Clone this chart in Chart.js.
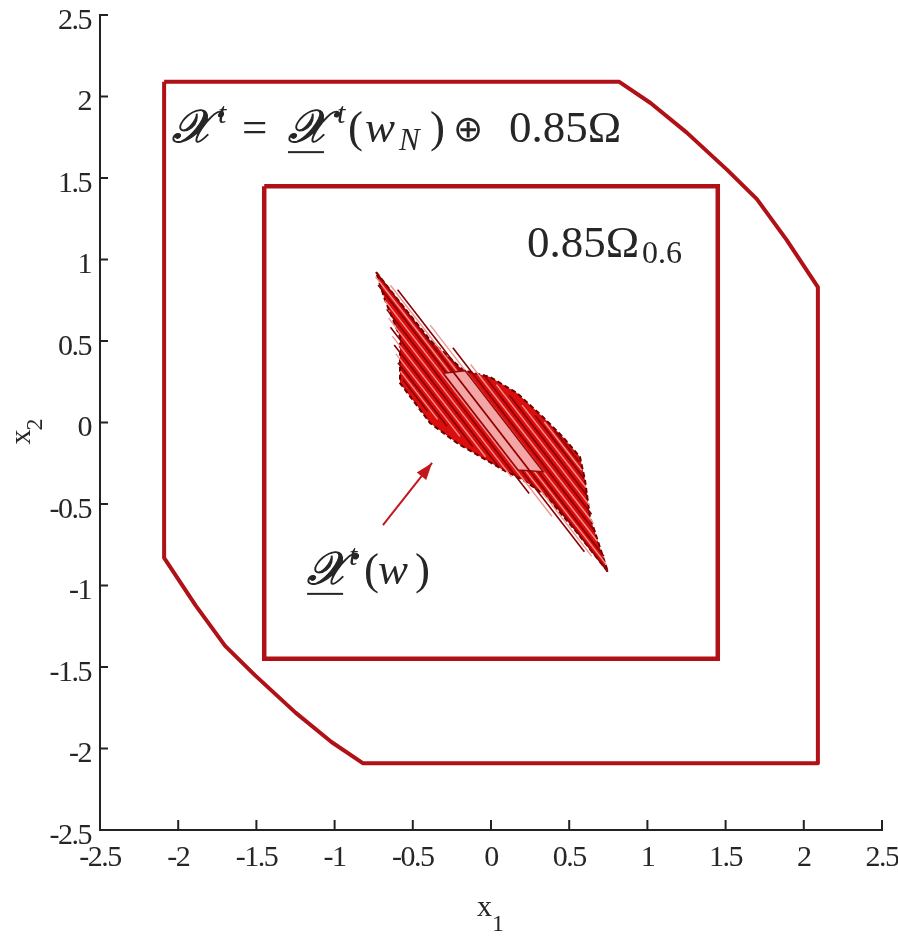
<!DOCTYPE html>
<html>
<head>
<meta charset="utf-8">
<title>Invariant sets</title>
<script src="https://cdn.jsdelivr.net/npm/chart.js@4.4.1/dist/chart.umd.min.js"></script>
<style>
  html, body { margin: 0; padding: 0; background: #fff; }
  #wrap { width: 898px; height: 939px; }
</style>
</head>
<body>
<div id="wrap"><canvas id="setsChart" width="898" height="939"></canvas></div>
<script>
// axis ticks
const tickValues = [-2.5, -2, -1.5, -1, -0.5, 0, 0.5, 1, 1.5, 2, 2.5];
const tickLabels = ["-2.5", "-2", "-1.5", "-1", "-0.5", "0", "0.5", "1", "1.5", "2", "2.5"];

// outer set X^t (closed polygon)
const outerSet = [
  [-2.09, 2.09], [0.82, 2.09], [1.02, 1.96], [1.25, 1.78], [1.51, 1.55], [1.70, 1.37],
  [1.89, 1.12], [2.09, 0.83], [2.09, -2.09], [-0.82, -2.09], [-1.02, -1.96], [-1.25, -1.78],
  [-1.51, -1.55], [-1.70, -1.37], [-1.89, -1.12], [-2.09, -0.83], [-2.09, 2.09]
];

// inner box 0.85*Omega_0.6
const innerBox = [[-1.45, 1.45], [1.45, 1.45], [1.45, -1.45], [-1.45, -1.45], [-1.45, 1.45]];

// union of the X^t(w) sets (envelope)
const cloudHull = [
  [-0.735, 0.923], [-0.39, 0.506], [-0.179, 0.322], [-0.006, 0.279], [0.166, 0.181],
  [0.332, 0.034], [0.46, -0.089], [0.569, -0.212], [0.601, -0.353], [0.633, -0.58],
  [0.748, -0.917], [0.537, -0.66], [0.345, -0.445], [0.205, -0.353], [0.077, -0.291],
  [-0.217, -0.126], [-0.39, -0.003], [-0.582, 0.242], [-0.582, 0.525], [-0.678, 0.752],
  [-0.735, 0.923]
];

// edges of the individual sets: [x1, y1, x2, y2]
const darkEdges = [
  [-0.597, 0.815, 0.722, -0.821],
  [-0.722, 0.843, 0.597, -0.793],
  [-0.244, 0.458, 0.667, -0.672],
  [-0.667, 0.694, 0.244, -0.436],
  [-0.048, 0.294, 0.643, -0.563],
  [-0.643, 0.585, 0.048, -0.272],
  [0.117, 0.169, 0.619, -0.454],
  [-0.619, 0.476, -0.117, -0.147],
  [0.281, 0.045, 0.595, -0.344],
  [-0.595, 0.366, -0.281, -0.023],
  [0.406, -0.047, 0.563, -0.241],
  [-0.563, 0.263, -0.406, 0.069]
];
const lightEdges = [
  [-0.643, 0.842, 0.738, -0.872],
  [-0.738, 0.894, 0.643, -0.820],
  [-0.389, 0.597, 0.679, -0.727],
  [-0.679, 0.749, 0.389, -0.575],
  [-0.130, 0.356, 0.655, -0.618],
  [-0.655, 0.640, 0.130, -0.334],
  [0.035, 0.232, 0.631, -0.508],
  [-0.631, 0.530, -0.035, -0.210],
  [0.199, 0.107, 0.608, -0.399],
  [-0.608, 0.421, -0.199, -0.085],
  [0.341, 0.003, 0.580, -0.293],
  [-0.580, 0.315, -0.341, 0.019]
];

// nominal set X^t(w_N)
const nominalSet = [[-0.305, 0.302], [-0.166, 0.318], [0.334, -0.302], [0.173, -0.291], [-0.305, 0.302]];
const centreLine = [[-0.735, 0.922], [0.747, -0.916]];

// pointer arrow to the label
const arrowLine = [[-0.691, -0.629], [-0.377, -0.248]];

const setRed = "#b01116";
const textColor = "#262626";

function pts(list) {
  return list.map(p => ({ x: p[0], y: p[1] }));
}

function lineSet(data, color, width, order, extra) {
  return Object.assign({
    data: data,
    showLine: true,
    borderColor: color,
    borderWidth: width,
    pointRadius: 0,
    fill: false,
    tension: 0,
    order: order
  }, extra || {});
}

const datasets = [];
datasets.push(lineSet(pts(outerSet), setRed, 4, 20, { borderJoinStyle: "round" }));
datasets.push(lineSet(pts(innerBox), setRed, 4.5, 20, { borderJoinStyle: "miter" }));
datasets.push(lineSet(pts(cloudHull), "#6a0000", 2, 12, { fill: "shape", backgroundColor: "#dc0d0d", borderDash: [5, 3] }));
lightEdges.forEach(e => datasets.push(lineSet(pts([[e[0], e[1]], [e[2], e[3]]]), "#f39494", 1.4, 10)));
darkEdges.forEach(e => datasets.push(lineSet(pts([[e[0], e[1]], [e[2], e[3]]]), "#8a0000", 1.6, 9)));
datasets.push(lineSet(pts(nominalSet), "#9a0808", 1.5, 5, { fill: "shape", backgroundColor: "#f4a6a6" }));
datasets.push(lineSet(pts(centreLine), "#900000", 1.8, 4));
datasets.push(lineSet(pts(arrowLine), "#c4171c", 2, 2));

// inward ticks, arrow head and the math labels
const decorPlugin = {
  id: "decor",
  beforeDraw(chart) {
    // tick labels are set a little tighter than the font's default spacing
    chart.ctx.letterSpacing = "-1.5px";
  },
  afterDraw(chart) {
    const ctx = chart.ctx;
    const xs = chart.scales.x, ys = chart.scales.y;
    const area = chart.chartArea;
    ctx.letterSpacing = "0px";
    ctx.save();

    // tick marks pointing into the plot
    ctx.strokeStyle = "#222";
    ctx.lineWidth = 2;
    tickValues.forEach(v => {
      const px = xs.getPixelForValue(v);
      ctx.beginPath(); ctx.moveTo(px, area.bottom); ctx.lineTo(px, area.bottom - 10); ctx.stroke();
      const py = ys.getPixelForValue(v);
      ctx.beginPath(); ctx.moveTo(area.left, py); ctx.lineTo(area.left + 8, py); ctx.stroke();
    });

    // arrow head
    const ax0 = xs.getPixelForValue(arrowLine[0][0]), ay0 = ys.getPixelForValue(arrowLine[0][1]);
    const ax1 = xs.getPixelForValue(arrowLine[1][0]), ay1 = ys.getPixelForValue(arrowLine[1][1]);
    const ang = Math.atan2(ay1 - ay0, ax1 - ax0);
    ctx.fillStyle = "#c4171c";
    ctx.beginPath();
    ctx.moveTo(ax1, ay1);
    ctx.lineTo(ax1 - 17 * Math.cos(ang) + 6 * Math.sin(ang), ay1 - 17 * Math.sin(ang) - 6 * Math.cos(ang));
    ctx.lineTo(ax1 - 17 * Math.cos(ang) - 6 * Math.sin(ang), ay1 - 17 * Math.sin(ang) + 6 * Math.cos(ang));
    ctx.closePath();
    ctx.fill();

    // text pieces placed at offsets from the label start: {t, f, x, dy, u, b}
    const rm = '45px "Liberation Serif"';
    const it = 'italic 45px "Liberation Serif"';
    const scr = 'italic 46px "DejaVu Serif"';
    const sup = 'italic 30px "Liberation Serif"';
    function label(x0, y0, list) {
      ctx.fillStyle = textColor;
      ctx.strokeStyle = textColor;
      ctx.lineWidth = 1.2;
      ctx.textBaseline = "alphabetic";
      ctx.textAlign = "left";
      list.forEach(r => {
        ctx.font = r.f;
        const w = ctx.measureText(r.t).width;
        ctx.fillText(r.t, x0 + r.x, y0 + (r.dy || 0));
        if (r.b) ctx.strokeText(r.t, x0 + r.x, y0 + (r.dy || 0));
        if (r.u) ctx.fillRect(x0 + r.x, y0 + 9, w - 4, 2);
      });
    }

    label(xs.getPixelForValue(-2.04), ys.getPixelForValue(1.72), [
      { t: "\u{1D4B3}", f: scr, x: 0, b: true },
      { t: "t", f: sup, x: 46, dy: -19 },
      { t: "=", f: rm, x: 70 },
      { t: "\u{1D4B3}", f: scr, x: 116, u: true, b: true },
      { t: "t", f: sup, x: 165, dy: -19 },
      { t: "(", f: rm, x: 176 },
      { t: "w", f: it, x: 193 },
      { t: "N", f: 'italic 31px "Liberation Serif"', x: 227, dy: 8 },
      { t: ")", f: rm, x: 258 },
      { t: "\u2295", f: '36px "DejaVu Sans"', x: 281, dy: -1 },
      { t: "0.85\u03A9", f: rm, x: 337 }
    ]);

    label(xs.getPixelForValue(0.23), ys.getPixelForValue(1.015), [
      { t: "0.85\u03A9", f: rm, x: 0 },
      { t: "0.6", f: '32px "Liberation Serif"', x: 115, dy: 6 }
    ]);

    label(xs.getPixelForValue(-1.176), ys.getPixelForValue(-0.99), [
      { t: "\u{1D4B3}", f: scr, x: 0, u: true, b: true },
      { t: "t", f: sup, x: 42, dy: -19 },
      { t: "(", f: rm, x: 57 },
      { t: "w", f: it, x: 71 },
      { t: ")", f: rm, x: 108 }
    ]);

    // axis titles
    ctx.font = '30px "Liberation Serif"';
    ctx.fillText("x", xs.getPixelForValue(0) - 14, area.bottom + 86);
    ctx.font = '24px "Liberation Serif"';
    ctx.fillText("1", xs.getPixelForValue(0) + 1, area.bottom + 101);

    ctx.translate(30, ys.getPixelForValue(0) + 22);
    ctx.rotate(-Math.PI / 2);
    ctx.font = '30px "Liberation Serif"';
    ctx.fillText("x", 0, 0);
    ctx.font = '24px "Liberation Serif"';
    ctx.fillText("2", 14, 12);

    ctx.restore();
  }
};

const tickFont = { family: "Liberation Serif", size: 30 };

new Chart(document.getElementById("setsChart").getContext("2d"), {
  type: "scatter",
  data: { datasets: datasets },
  options: {
    responsive: false,
    animation: false,
    layout: { padding: { left: 0, right: 16, top: 15, bottom: 0 } },
    plugins: { legend: { display: false }, tooltip: { enabled: false } },
    scales: {
      x: {
        type: "linear",
        min: -2.5,
        max: 2.5,
        afterBuildTicks: s => { s.ticks = tickValues.map(v => ({ value: v })); },
        afterFit: s => { s.height = 109; s.paddingLeft = 0; s.paddingRight = 0; },
        grid: { display: false, drawTicks: false },
        border: { display: true, color: "#222", width: 2 },
        ticks: {
          callback: (v, i) => tickLabels[i],
          font: tickFont,
          color: textColor,
          padding: 10,
          maxRotation: 0,
          autoSkip: false
        }
      },
      y: {
        type: "linear",
        min: -2.5,
        max: 2.5,
        afterBuildTicks: s => { s.ticks = tickValues.map(v => ({ value: v })); },
        afterFit: s => { s.width = 100; s.paddingTop = 0; s.paddingBottom = 0; },
        grid: { display: false, drawTicks: false },
        border: { display: true, color: "#222", width: 2 },
        ticks: {
          callback: (v, i) => tickLabels[i],
          font: tickFont,
          color: textColor,
          padding: 9,
          labelOffset: 6,
          autoSkip: false
        }
      }
    }
  },
  plugins: [decorPlugin]
});
</script>
</body>
</html>
